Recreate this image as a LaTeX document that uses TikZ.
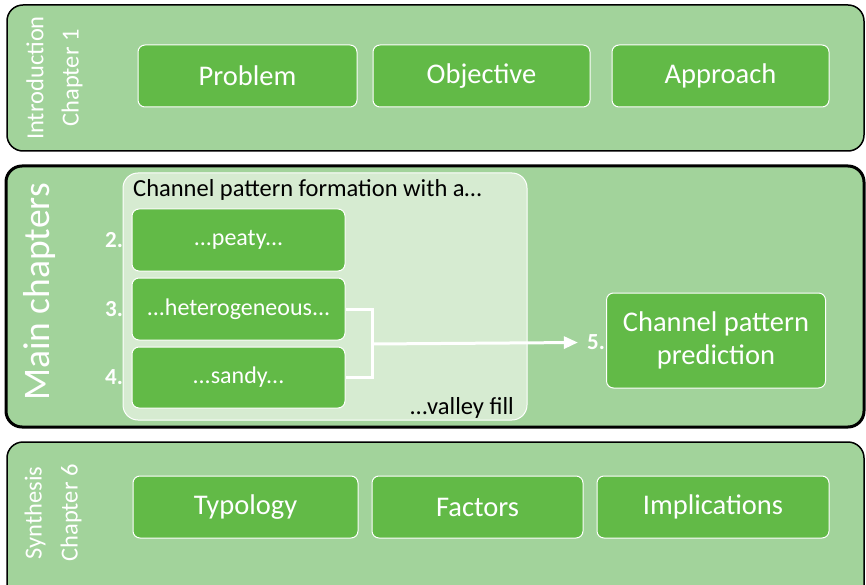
\documentclass[tikz,border=0pt]{standalone}
\usepackage{fontspec}
\setmainfont{Carlito}
\usetikzlibrary{arrows.meta}
\definecolor{panelgreen}{HTML}{A2D39B}
\definecolor{boxgreen}{HTML}{62BA47}
\definecolor{innergreen}{HTML}{D6EBD1}
\tikzset{
  x=1pt, y=-1pt,
  panel/.style={draw=black, fill=panelgreen, line width=1.5pt, rounded corners=16pt},
  mainpanel/.style={panel, line width=3pt},
  greenbox/.style={draw=white, fill=boxgreen, line width=1pt, rounded corners=7pt,
    text=white, font=\fontsize{28.5}{33}\selectfont, inner sep=0pt, align=center},
  smallbox/.style={greenbox, font=\fontsize{24}{29}\selectfont},
  sidelabel/.style={text=white, rotate=90, font=\fontsize{24.5}{29}\selectfont, inner sep=0pt},
  numlabel/.style={text=white, font=\fontsize{23}{27}\selectfont\bfseries, inner sep=0pt},
  link/.style={draw=white, line width=3pt},
}
\begin{document}
\begin{tikzpicture}
\useasboundingbox (0,0) rectangle (866,585);
\begin{scope}
\clip (0,0) rectangle (866,585);
% three chapter panels
\draw[panel] (7,5) rectangle (864,151);
\draw[mainpanel] (6,166) rectangle (864,427);
\draw[panel] (7,442) rectangle (864,610);
\end{scope}

% introduction
\node[sidelabel] (intro) at (35,78) {Introduction};
\node[sidelabel] (ch1) at (72,78) {Chapter 1};
\node[greenbox, minimum width=219pt, minimum height=62pt] (problem) at (247.5,76) {Problem};
\node[greenbox, minimum width=217pt, minimum height=62pt] (objective) at (481.5,76) {Objective};
\node[greenbox, minimum width=217pt, minimum height=62pt] (approach) at (720.5,76) {Approach};

% main chapters
\node[sidelabel, font=\fontsize{37.5}{44}\selectfont] (main) at (40,292) {Main chapters};
\draw[draw=white, fill=innergreen, line width=1pt, rounded corners=15pt] (123,173) rectangle (527,420);
\node[anchor=west, inner sep=0pt, font=\fontsize{24.5}{29}\selectfont] (formation) at (133,190) {Channel pattern formation with a…};
\node[anchor=east, inner sep=0pt, font=\fontsize{24.5}{29}\selectfont] (valley) at (514,408) {…valley fill};
\node[smallbox, minimum width=213pt, minimum height=62pt] (peaty) at (238.5,240) {...peaty...};
\node[smallbox, minimum width=213pt, minimum height=62pt] (hetero) at (238.5,309) {...heterogeneous...};
\node[smallbox, minimum width=213pt, minimum height=61pt] (sandy) at (238.5,377.5) {...sandy...};
\node[numlabel] (n2) at (114,240) {2.};
\node[numlabel] (n3) at (114,309) {3.};
\node[numlabel] (n4) at (114,377) {4.};
\node[greenbox, minimum width=219pt, minimum height=95pt] (predict) at (716,340.5) {Channel pattern\\prediction};
\node[numlabel] (n5) at (596,342.5) {5.};

% bracket joining chapters 3 and 4, and the arrow to chapter 5
\coordinate (join) at (372,344);
\draw[link] (hetero.east) -| (join) |- (sandy.east);
\draw[link, -{Triangle[length=14pt, width=12pt]}] (join) -- ([xshift=-9pt]n5.west);

% synthesis
\node[sidelabel] (synth) at (35,513) {Synthesis};
\node[sidelabel] (ch6) at (71,513) {Chapter 6};
\node[greenbox, minimum width=225pt, minimum height=62pt] (typology) at (245.5,507) {Typology};
\node[greenbox, minimum width=211pt, minimum height=62pt] (factors) at (477.5,507) {Factors};
\node[greenbox, minimum width=232pt, minimum height=62pt] (implications) at (713,507) {Implications};
\end{tikzpicture}
\end{document}
